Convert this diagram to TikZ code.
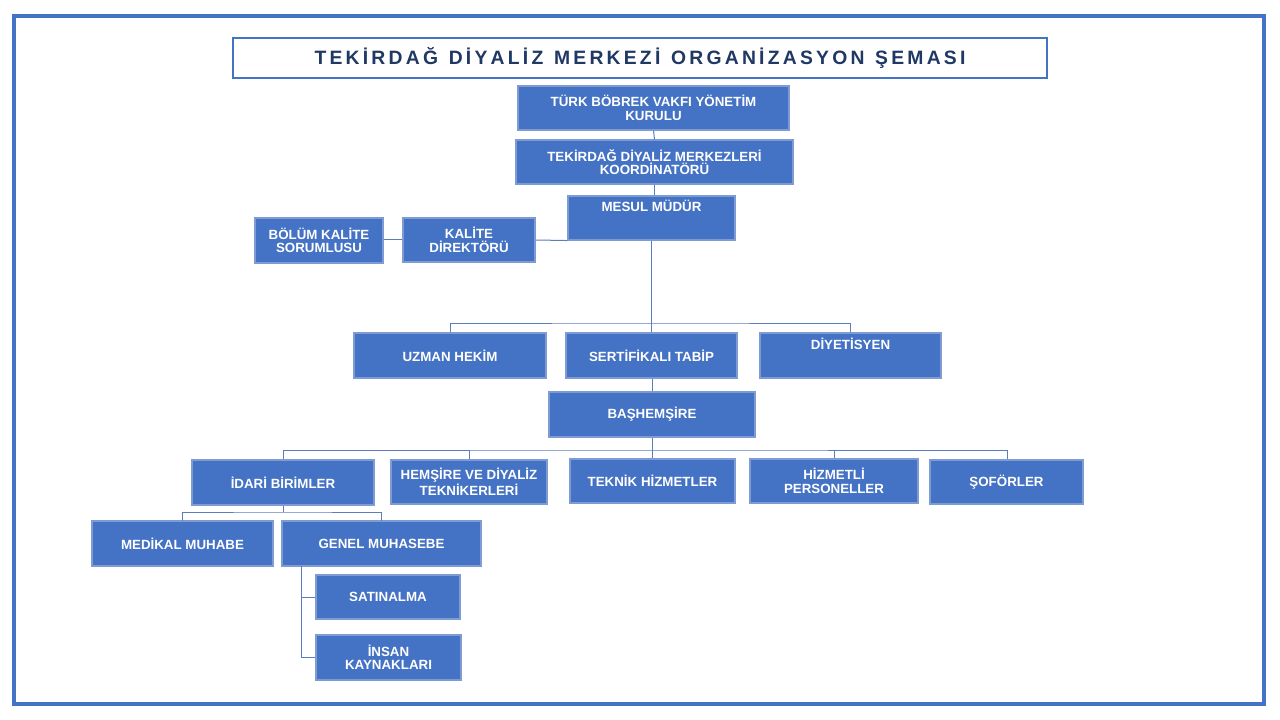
\documentclass[tikz,border=0pt]{standalone}
\usepackage{fontspec}
\setmainfont{Liberation Sans}
\definecolor{bx}{HTML}{4472C4}
\definecolor{bd}{HTML}{7F9BD4}
\definecolor{ln}{HTML}{5B7DBE}
\definecolor{tt}{HTML}{1F3864}
\begin{document}
\begin{tikzpicture}[x=0.75pt,y=-0.75pt,
  box/.style={draw=bd,fill=bx,line width=0.8pt,text=white,font=\bfseries\fontsize{10}{10}\selectfont,align=center,inner sep=0pt},
  conn/.style={draw=ln,line width=0.75pt}]
\useasboundingbox (0,0) rectangle (1280,720);
\draw[bx,line width=3pt] (14,16) rectangle (1264,704);
\draw[bx,line width=1.8pt] (233,38) rectangle (1047,78);
\node (title) at (640,58) {\fontsize{14.5}{15}\selectfont\bfseries\color{tt}T\,E\,K\,İ\,R\,D\,A\,Ğ\ \ D\,İ\,Y\,A\,L\,İ\,Z\ \ M\,E\,R\,K\,E\,Z\,İ\ \ O\,R\,G\,A\,N\,İ\,Z\,A\,S\,Y\,O\,N\ \ Ş\,E\,M\,A\,S\,I};
\newcommand{\bxat}[6]{\node[box,minimum width=#4*0.75pt-#2*0.75pt,minimum height=#5*0.75pt-#3*0.75pt] (#1) at ({(#2+#4)/2},{(#3+#5)/2}) {#6};}
\bxat{tbv}{518}{86}{789}{130}{TÜRK BÖBREK VAKFI YÖNETİM\\KURULU}
\bxat{koord}{516}{140}{793}{184}{TEKİRDAĞ DİYALİZ MERKEZLERİ\\KOORDİNATÖRÜ}
\bxat{mesul}{568}{196}{735}{240}{MESUL MÜDÜR\\[8pt]}
\bxat{kalite}{403}{218}{535}{262}{KALİTE\\DİREKTÖRÜ}
\bxat{bolum}{255}{218}{383}{263}{BÖLÜM KALİTE\\SORUMLUSU}
\bxat{uzman}{354}{333}{546}{378}{UZMAN HEKİM}
\bxat{sert}{566}{333}{737}{378}{SERTİFİKALI TABİP}
\bxat{diyet}{760}{333}{941}{378}{DİYETİSYEN\\[8pt]}
\bxat{bas}{549}{392}{755}{437}{BAŞHEMŞİRE}
\bxat{idari}{192}{460}{374}{505}{İDARİ BİRİMLER}
\bxat{hems}{391}{460}{547}{504}{HEMŞİRE VE DİYALİZ\\TEKNİKERLERİ}
\bxat{teknik}{570}{459}{735}{503}{TEKNİK HİZMETLER}
\bxat{hizmet}{750}{459}{918}{503}{HİZMETLİ\\PERSONELLER}
\bxat{sofor}{930}{460}{1083}{504}{ŞOFÖRLER}
\bxat{medikal}{92}{521}{273}{566}{MEDİKAL MUHABE}
\bxat{genel}{282}{521}{481}{566}{GENEL MUHASEBE}
\bxat{satin}{316}{575}{460}{619}{SATINALMA}
\bxat{insan}{316}{635}{461}{680}{İNSAN\\KAYNAKLARI}
\begin{scope}[on background layer/.style={}]
\draw[conn] (tbv.south) -- (koord.north);
\draw[conn] (koord.south) -- (koord.south|-mesul.north);
\draw[conn] (mesul.south -| 651,0) -- (651,323) coordinate (m1);
\draw[conn] (uzman.north) |- (m1) -| (diyet.north);
\draw[conn] (m1) -- (sert.north -| 651,0);
\draw[conn] (sert.south -| 652,0) -- (bas.north -| 652,0);
\draw[conn] (kalite.east |- 0,240) -- (mesul.south west);
\draw[conn] (bolum.east |- 0,240) -- (kalite.west |- 0,240);
\draw[conn] (bas.south -| 652,0) -- (652,450) coordinate (b1);
\draw[conn] (idari.north -| 283,0) |- (b1) -| (sofor.north -| 1007,0);
\draw[conn] (hems.north) -- (hems.north |- b1);
\draw[conn] (b1) -- (teknik.north -| 652,0);
\draw[conn] (hizmet.north) -- (hizmet.north |- b1);
\draw[conn] (idari.south) -- (idari.south |- 0,512) coordinate (i1);
\draw[conn] (182,521) |- (i1) -| (381,521);
\draw[conn] (301,566) |- (insan.west);
\draw[conn] (301,597) -- (satin.west);
\end{scope}
\end{tikzpicture}
\end{document}
